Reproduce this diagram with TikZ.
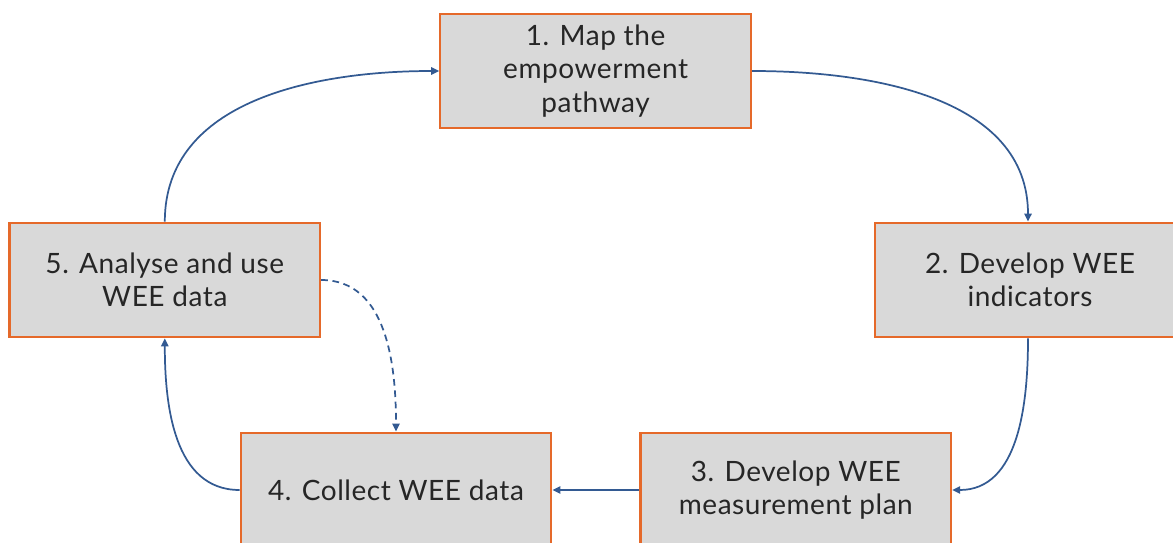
\documentclass[tikz,border=0pt]{standalone}
\usepackage{fontspec}
\setmainfont{Lato}[LetterSpace=2]
\usepackage{tikz}
\usetikzlibrary{arrows.meta,positioning}
\definecolor{stepfill}{HTML}{D9D9D9}
\definecolor{stepedge}{HTML}{E5692A}
\definecolor{flowblue}{HTML}{335A92}

\begin{document}
\begin{tikzpicture}[
    x=0.75pt, y=-0.75pt,
    stepbox/.style={fill=stepfill, draw=stepedge, line width=1.6pt, align=center,
        minimum width=233pt, minimum height=86pt, inner sep=0pt,
        font=\fontsize{21}{25}\selectfont, text=black!85},
    flow/.style={-{Triangle[length=6pt, width=5.5pt]}, line width=1.3pt, flowblue},
    flowdash/.style={flow, dash pattern=on 5pt off 3.5pt}
]
\useasboundingbox (0,0) rectangle (1173,542);

% the five steps of the cycle
\node[stepbox] (S1) at (595.6,71) {1. Map the\\empowerment\\pathway};
\node[stepbox] (S2) at (1030,280) {2. Develop WEE\\indicators};
\node[stepbox] (S3) at (795.8,490) {3. Develop WEE\\measurement plan};
\node[stepbox] (S4) at (396,490) {4. Collect WEE data};
\node[stepbox] (S5) at (164.8,280) {5. Analyse and use\\WEE data};

% connectors round the cycle
\draw[flow] (S1.east) to[out=0, in=90] ([xshift=-1.5pt]S2.north);
\draw[flow] ([xshift=-1.5pt]S2.south) to[out=-90, in=0] (S3.east);
\draw[flow] (S3.west) -- (S4.east);
\draw[flow] (S4.west) to[out=180, in=-90] (S5.south);
\draw[flow] (S5.north) to[out=90, in=180] (S1.west);

% feedback from analysis back to collection
\draw[flowdash] (S5.east) to[out=0, in=90] (S4.north);

\end{tikzpicture}
\end{document}
